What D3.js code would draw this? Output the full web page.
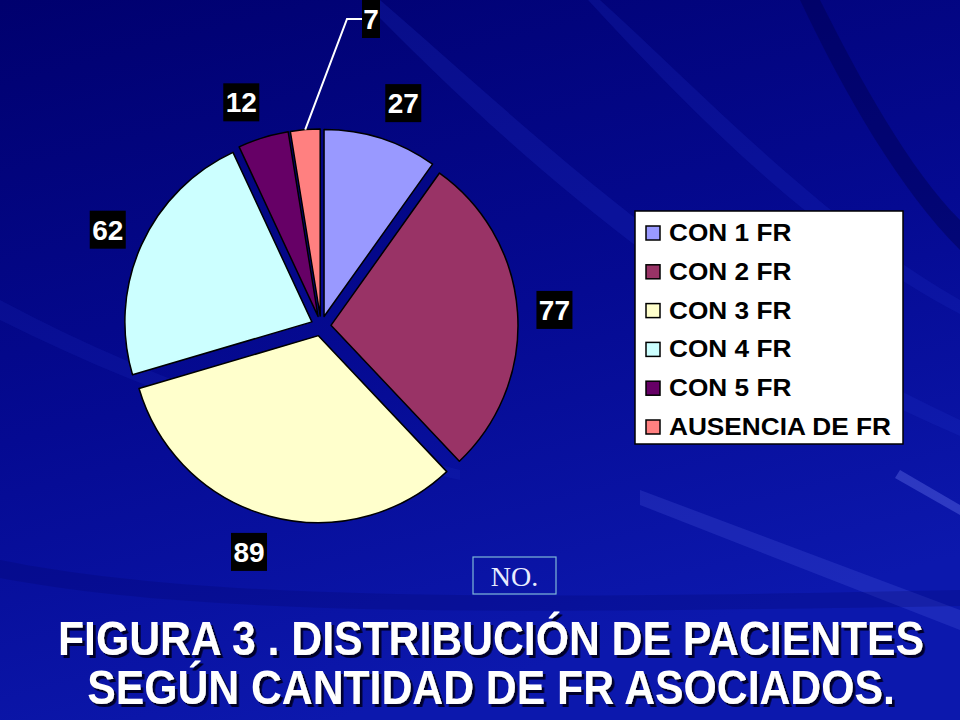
<!DOCTYPE html>
<html>
<head>
<meta charset="utf-8">
<script src="https://cdn.jsdelivr.net/npm/d3@7"></script>
<style>
  html, body { margin: 0; padding: 0; background: #000080; }
  svg { display: block; }
</style>
</head>
<body>
<div id="chart"></div>
<script>
// data
var categories = ["CON 1 FR", "CON 2 FR", "CON 3 FR", "CON 4 FR", "CON 5 FR", "AUSENCIA DE FR"];
var values = [27, 77, 89, 62, 12, 7];
var titleLines = ["FIGURA 3 . DISTRIBUCIÓN DE PACIENTES", "SEGÚN CANTIDAD DE FR ASOCIADOS."];

var palette = ["#9999ff", "#993366", "#ffffcc", "#ccffff", "#660066", "#ff8080"];

var width = 960,
    height = 720,
    cx = 321, cy = 326,
    radius = 187,
    explode = 10,
    labelRadius = 234;

var color = d3.scaleOrdinal(categories, palette);

var svg = d3.select("#chart").append("svg")
    .attr("width", width)
    .attr("height", height);

// background
var defs = svg.append("defs");
var bg = defs.append("linearGradient")
    .attr("id", "bg").attr("x1", 0).attr("y1", 0).attr("x2", 0.35).attr("y2", 1);
bg.append("stop").attr("offset", "0%").attr("stop-color", "#00006e");
bg.append("stop").attr("offset", "55%").attr("stop-color", "#050a92");
bg.append("stop").attr("offset", "100%").attr("stop-color", "#0c18ad");

var shadow = defs.append("filter").attr("id", "shadow")
    .attr("x", "-5%").attr("y", "-20%").attr("width", "110%").attr("height", "140%");
shadow.append("feDropShadow")
    .attr("dx", 3).attr("dy", 3).attr("stdDeviation", 0.6)
    .attr("flood-color", "#00002a").attr("flood-opacity", 1);

svg.append("rect").attr("width", width).attr("height", height).attr("fill", "url(#bg)");

// faint streaks
var streaks = [
    { d: "M380,0 C520,120 700,300 960,420 L960,436 C690,320 500,140 362,0 Z", c: "#1e2ec4", o: 0.25 },
    { d: "M600,0 C700,90 820,220 960,300 L960,314 C810,235 690,110 588,0 Z", c: "#1a2ac0", o: 0.25 },
    { d: "M820,0 C860,80 910,170 960,220 L960,250 C900,190 845,95 800,0 Z", c: "#000050", o: 0.45 },
    { d: "M640,490 L960,610 L960,630 L640,505 Z", c: "#6070f0", o: 0.2 },
    { d: "M0,300 C150,380 300,430 460,470 L460,480 C300,445 150,395 0,320 Z", c: "#2a3cd0", o: 0.15 },
    { d: "M900,470 L960,505 L960,515 L895,478 Z", c: "#8090ff", o: 0.3 },
    { d: "M0,560 C200,600 500,600 960,590 L960,606 C500,614 200,616 0,578 Z", c: "#000060", o: 0.2 }
];
svg.append("g").selectAll("path")
    .data(streaks)
    .enter().append("path")
    .attr("d", function(d) { return d.d; })
    .attr("fill", function(d) { return d.c; })
    .attr("opacity", function(d) { return d.o; });

// pie
var pie = d3.pie().sort(null).value(function(d) { return d; });
var arcs = pie(values);

var arc = d3.arc().innerRadius(0).outerRadius(radius);
var labelArc = d3.arc().innerRadius(labelRadius).outerRadius(labelRadius);

function mid(d) { return (d.startAngle + d.endAngle) / 2; }
function offset(d, r) {
    var a = mid(d);
    return [Math.sin(a) * r, -Math.cos(a) * r];
}

var g = svg.append("g").attr("transform", "translate(" + cx + "," + cy + ")");

g.selectAll("path.slice")
    .data(arcs)
    .enter().append("path")
    .attr("class", "slice")
    .attr("transform", function(d) { var o = offset(d, explode); return "translate(" + o[0] + "," + o[1] + ")"; })
    .attr("d", arc)
    .attr("fill", function(d, i) { return color(categories[i]); })
    .attr("stroke", "#000")
    .attr("stroke-width", 1.5)
    .attr("stroke-linejoin", "round");

// data labels (the smallest one was dragged out with a leader line)
var movedLabel = { index: 5, pos: [371 - cx, 19 - cy], elbow: [347 - cx, 19 - cy] };

var labelPos = arcs.map(function(d, i) {
    if (i === movedLabel.index) return movedLabel.pos;
    var c = labelArc.centroid(d);
    var s = Math.sin(mid(d));
    // labels near top/bottom sit a bit further out sideways
    if (Math.abs(s) < 0.5) c[0] += 11 * Math.sign(s);
    return c;
});

var m = arcs[movedLabel.index];
var start = offset(m, radius + explode);
g.append("polyline")
    .attr("points", [start, movedLabel.elbow, [movedLabel.pos[0] - 9, movedLabel.elbow[1]]].map(function(p) { return p.join(","); }).join(" "))
    .attr("fill", "none")
    .attr("stroke", "#fff")
    .attr("stroke-width", 2);

var labels = g.selectAll("g.lbl")
    .data(arcs)
    .enter().append("g")
    .attr("class", "lbl")
    .attr("transform", function(d, i) { return "translate(" + labelPos[i][0] + "," + labelPos[i][1] + ")"; });

labels.append("rect")
    .attr("x", function(d) { return String(d.data).length > 1 ? -18 : -9; })
    .attr("y", -19)
    .attr("width", function(d) { return String(d.data).length > 1 ? 36 : 18; })
    .attr("height", 38)
    .attr("fill", "#000");

labels.append("text")
    .attr("text-anchor", "middle")
    .attr("y", 10)
    .attr("fill", "#fff")
    .style("font-family", "'Liberation Sans', Arial, sans-serif")
    .style("font-weight", "bold")
    .style("font-size", "28px")
    .text(function(d) { return d.data; });

// legend
var legend = svg.append("g").attr("transform", "translate(635,211)");
legend.append("rect")
    .attr("width", 268).attr("height", 233)
    .attr("fill", "#fff")
    .attr("stroke", "#000").attr("stroke-width", 1.5);

var rowY = d3.scalePoint().domain(categories).range([22, 216]);

var item = legend.selectAll("g.item")
    .data(categories)
    .enter().append("g")
    .attr("class", "item")
    .attr("transform", function(d) { return "translate(0," + rowY(d) + ")"; });

item.append("rect")
    .attr("x", 11).attr("y", -7)
    .attr("width", 14).attr("height", 14)
    .attr("fill", function(d) { return color(d); })
    .attr("stroke", "#000").attr("stroke-width", 1.5);

item.append("text")
    .attr("transform", "translate(34,8) scale(1.14,1)")
    .attr("fill", "#000")
    .style("font-family", "'Liberation Sans', Arial, sans-serif")
    .style("font-weight", "bold")
    .style("font-size", "23px")
    .text(function(d) { return d; });

// "NO." box
var no = svg.append("g").attr("transform", "translate(473,557)");
no.append("rect")
    .attr("width", 83).attr("height", 37)
    .attr("fill", "none")
    .attr("stroke", "#7fb8d8").attr("stroke-width", 1.2);
no.append("text")
    .attr("x", 41.5).attr("y", 29)
    .attr("text-anchor", "middle")
    .attr("fill", "#e8ecff")
    .style("font-family", "'Liberation Serif', 'Times New Roman', serif")
    .style("font-size", "28px")
    .text("NO.");

// title with drop shadow
var titleY = [655, 704];
svg.append("g").selectAll("text")
    .data(titleLines)
    .enter().append("text")
    .attr("transform", function(d, i) { return "translate(491," + titleY[i] + ") scale(0.89,1)"; })
    .attr("text-anchor", "middle")
    .attr("fill", "#fff")
    .attr("filter", "url(#shadow)")
    .style("font-family", "'Liberation Sans', Arial, sans-serif")
    .style("font-weight", "bold")
    .style("font-size", "48px")
    .text(function(d) { return d; });
</script>
</body>
</html>
